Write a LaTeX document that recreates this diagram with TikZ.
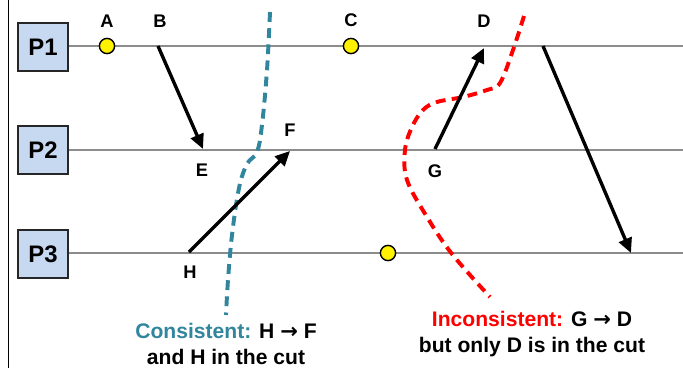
\documentclass[tikz,border=0pt]{standalone}
\usepackage{fontspec}
\setmainfont{Liberation Sans}
\newfontfamily\arrowfont{DejaVu Sans}
\usetikzlibrary{arrows.meta,shadows}
\definecolor{procblue}{HTML}{C6D9F1}
\definecolor{cutblue}{HTML}{31859C}
\definecolor{cutred}{HTML}{FF0000}
\definecolor{linegray}{HTML}{8C8C8C}

\begin{document}
\begin{tikzpicture}[
    x=0.025cm, y=-0.025cm,
    proc/.style={rectangle, draw=black!85, line width=1.3pt, fill=procblue, minimum width=1.25cm, minimum height=1.22cm, font=\fontsize{17}{20}\selectfont\bfseries, drop shadow={opacity=0.35, shadow xshift=0.7pt, shadow yshift=-0.7pt}},
    timeline/.style={draw=linegray, line width=1.4pt},
    dot/.style={circle, draw=black, line width=1pt, fill=yellow, inner sep=0pt, minimum size=0.38cm, drop shadow={opacity=0.35, shadow xshift=0.5pt, shadow yshift=-0.5pt}},
    lbl/.style={font=\fontsize{13}{15}\selectfont\bfseries},
    msg/.style={-{Triangle[length=10.5pt, width=9.5pt]}, line width=2.4pt},
    cut/.style={line width=2.8pt, dash pattern=on 7pt off 4.5pt},
    caption/.style={align=center, font=\fontsize{15}{18.5}\selectfont\bfseries}
]
\useasboundingbox (0,0) rectangle (683,368);

% Left border
\draw[line width=1.4pt] (8.5,0) -- (8.5,368);

% Processes
\node[proc] (p1) at (43,47) {P1};
\node[proc] (p2) at (43,150) {P2};
\node[proc] (p3) at (43,254) {P3};

% Timelines
\coordinate (p1end) at (683,46);
\coordinate (p2end) at (683,150);
\coordinate (p3end) at (683,253);
\draw[timeline] (p1.east |- p1end) -- (p1end);
\draw[timeline] (p2.east |- p2end) -- (p2end);
\draw[timeline] (p3.east |- p3end) -- (p3end);

% Cuts
\draw[cut, cutblue] plot[smooth, tension=0.6] coordinates {(270,12) (267,70) (262,125) (257,152) (247,164) (239,188) (232,235) (228,280) (226,315)};
\draw[cut, cutred] plot[smooth, tension=0.6] coordinates {(524,16) (513,50) (500,83) (487,90) (463,97) (437,102) (423,110) (412,127) (405,150) (407,180) (427,217) (452,254) (490,297)};

% Events
\coordinate (B) at (158,46);
\coordinate (E) at (203,149);
\coordinate (H) at (189,252);
\coordinate (F) at (290,151);
\coordinate (G) at (435,149);
\coordinate (D) at (484,48);
\coordinate (send) at (543,46);
\coordinate (recv) at (631,253);

% Messages
\draw[msg] (B) -- (E);
\draw[msg] (H) -- (F);
\draw[msg] (G) -- (D);
\draw[msg] (send) -- (recv);

% Local events
\node[dot] (A) at (107,46) {};
\node[dot] (C) at (351,46) {};
\node[dot] (p3ev) at (388,253) {};

% Labels
\node[lbl] (labA) at (107,21) {A};
\node[lbl] (labB) at (160,21) {B};
\node[lbl] (labC) at (351,20) {C};
\node[lbl] (labD) at (484,21) {D};
\node[lbl] (labE) at (202,170) {E};
\node[lbl] (labF) at (290,130) {F};
\node[lbl] (labG) at (435,171) {G};
\node[lbl] (labH) at (190,272) {H};

% Captions
\node[caption] (conscap) at (226,344) {\textcolor{cutblue}{Consistent:} H {\arrowfont →} F\\and H in the cut};
\node[caption] (inconscap) at (532,334) {\textcolor{cutred}{Inconsistent:} G {\arrowfont →} D\\but only D is in the cut};

\end{tikzpicture}
\end{document}
